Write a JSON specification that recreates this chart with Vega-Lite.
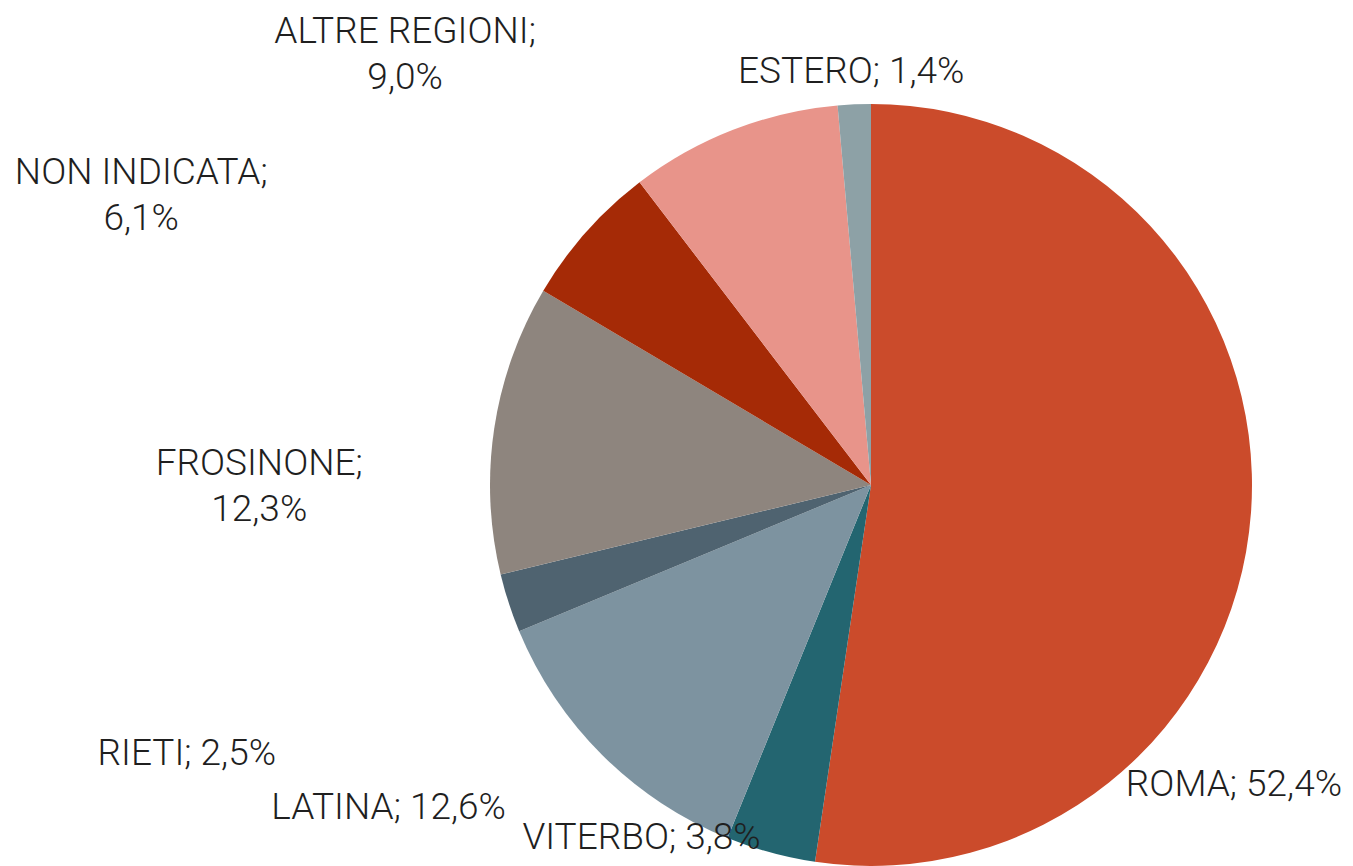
{
  "$schema": "https://vega.github.io/schema/vega-lite/v6.json",
  "width": 762,
  "height": 762,
  "autosize": {"type": "none"},
  "padding": {"left": 490, "top": 104, "right": 101, "bottom": 0},
  "background": "white",
  "config": {
    "view": {"stroke": null},
    "text": {"font": "Roboto", "fontSize": 37, "fontWeight": 300, "color": "#1f1f1f", "align": "center", "baseline": "alphabetic", "lineBreak": "\n", "lineHeight": 46}
  },
  "data": {
    "values": [
      {"cat": "ROMA", "pct": 52.4, "ord": 1, "label": "ROMA; 52,4%"},
      {"cat": "VITERBO", "pct": 3.8, "ord": 2, "label": "VITERBO; 3,8%"},
      {"cat": "LATINA", "pct": 12.6, "ord": 3, "label": "LATINA; 12,6%"},
      {"cat": "RIETI", "pct": 2.5, "ord": 4, "label": "RIETI; 2,5%"},
      {"cat": "FROSINONE", "pct": 12.3, "ord": 5, "label": "FROSINONE;\n12,3%"},
      {"cat": "NON INDICATA", "pct": 6.1, "ord": 6, "label": "NON INDICATA;\n6,1%"},
      {"cat": "ALTRE REGIONI", "pct": 9.0, "ord": 7, "label": "ALTRE REGIONI;\n9,0%"},
      {"cat": "ESTERO", "pct": 1.4, "ord": 8, "label": "ESTERO; 1,4%"}
    ]
  },
  "transform": [
    {"stack": "pct", "groupby": [], "sort": [{"field": "ord", "order": "ascending"}], "as": ["start", "end"]},
    {"calculate": "(datum.start + datum.end) / 2", "as": "mid"}
  ],
  "layer": [
    {
      "mark": {"type": "arc", "outerRadius": 381},
      "encoding": {
        "theta": {"field": "start", "type": "quantitative", "scale": {"domain": [0, 100.1]}},
        "theta2": {"field": "end"},
        "color": {
          "field": "cat",
          "type": "nominal",
          "scale": {
            "domain": ["ROMA", "VITERBO", "LATINA", "RIETI", "FROSINONE", "NON INDICATA", "ALTRE REGIONI", "ESTERO"],
            "range": ["#CB4B2B", "#236570", "#7D93A0", "#4F6370", "#8E857E", "#A52A06", "#E8948A", "#8DA1A6"]
          },
          "legend": null
        }
      }
    },
    {
      "transform": [{"filter": "datum.cat === 'ROMA'"}],
      "mark": {"type": "text", "dx": -17, "dy": 283},
      "encoding": {"theta": {"field": "mid", "type": "quantitative", "stack": null}, "radius": {"value": 381}, "text": {"field": "label"}}
    },
    {
      "transform": [{"filter": "datum.cat === 'VITERBO'"}],
      "mark": {"type": "text", "dx": -129, "dy": -4},
      "encoding": {"theta": {"field": "mid", "type": "quantitative", "stack": null}, "radius": {"value": 381}, "text": {"field": "label"}}
    },
    {
      "transform": [{"filter": "datum.cat === 'LATINA'"}],
      "mark": {"type": "text", "dx": -214, "dy": 64},
      "encoding": {"theta": {"field": "mid", "type": "quantitative", "stack": null}, "radius": {"value": 381}, "text": {"field": "label"}}
    },
    {
      "transform": [{"filter": "datum.cat === 'RIETI'"}],
      "mark": {"type": "text", "dx": -322, "dy": 162},
      "encoding": {"theta": {"field": "mid", "type": "quantitative", "stack": null}, "radius": {"value": 381}, "text": {"field": "label"}}
    },
    {
      "transform": [{"filter": "datum.cat === 'FROSINONE'"}],
      "mark": {"type": "text", "dx": -235, "dy": 47},
      "encoding": {"theta": {"field": "mid", "type": "quantitative", "stack": null}, "radius": {"value": 381}, "text": {"field": "label"}}
    },
    {
      "transform": [{"filter": "datum.cat === 'NON INDICATA'"}],
      "mark": {"type": "text", "dx": -445, "dy": -48},
      "encoding": {"theta": {"field": "mid", "type": "quantitative", "stack": null}, "radius": {"value": 381}, "text": {"field": "label"}}
    },
    {
      "transform": [{"filter": "datum.cat === 'ALTRE REGIONI'"}],
      "mark": {"type": "text", "dx": -328, "dy": -87},
      "encoding": {"theta": {"field": "mid", "type": "quantitative", "stack": null}, "radius": {"value": 381}, "text": {"field": "label"}}
    },
    {
      "transform": [{"filter": "datum.cat === 'ESTERO'"}],
      "mark": {"type": "text", "dx": -3, "dy": -21},
      "encoding": {"theta": {"field": "mid", "type": "quantitative", "stack": null}, "radius": {"value": 381}, "text": {"field": "label"}}
    }
  ]
}
